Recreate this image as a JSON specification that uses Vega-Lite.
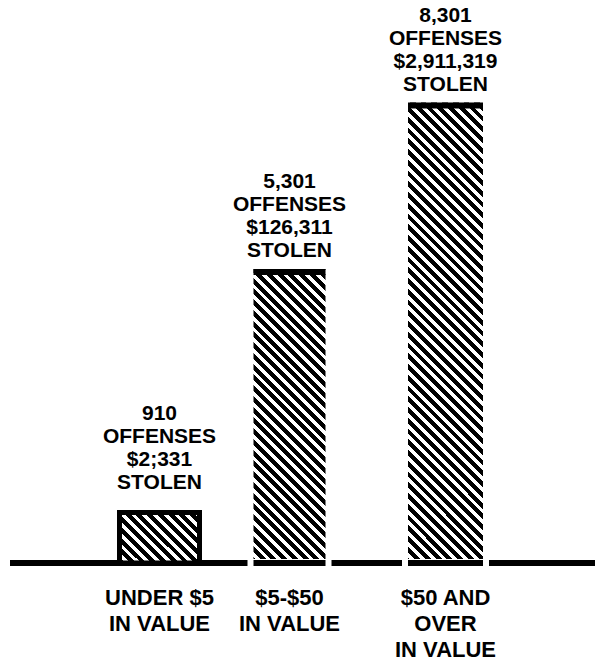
{
"$schema": "https://vega.github.io/schema/vega-lite/v6.json",
"width": 585,
"height": 563,
"autosize": {"type": "none"},
"padding": {"left": 10, "top": 0, "right": 0, "bottom": 99},
"config": {"view": {"stroke": null}, "text": {"font": "Liberation Sans", "fontWeight": "bold", "fontSize": 21, "color": "black"}},
"data": {"values": [
{"category": "UNDER $5\nIN VALUE", "offenses": 910, "stolen": "$2;331"},
{"category": "$5-$50\nIN VALUE", "offenses": 5301, "stolen": "$126,311"},
{"category": "$50 AND\nOVER\nIN VALUE", "offenses": 8301, "stolen": "$2,911,319"}
]},
"encoding": {"y": {"field": "offenses", "type": "quantitative", "scale": {"domain": [0, 10150], "nice": false}, "axis": null}},
"layer": [
{"mark": {"type": "rule", "color": "black", "strokeWidth": 6}, "encoding": {"y": {"datum": 0}}},
{"encoding": {"x": {"field": "category", "type": "nominal", "scale": {"type": "point", "padding": 0.75, "domain": ["pad1", "pad2", "pad3", "pad4", "pad5", "UNDER $5\nIN VALUE", "gap1", "gap2", "gap3", "gap4", "$5-$50\nIN VALUE", "gap5", "gap6", "gap7", "gap8", "gap9", "$50 AND\nOVER\nIN VALUE", "pad6", "pad7", "pad8", "pad9", "pad10"]}, "axis": null}},
 "layer": [
 {"transform": [{"filter": "datum.offenses === 910"}],
  "layer": [
  {"mark": {"type": "bar", "width": 80, "stroke": "black", "strokeWidth": 5, "fill": {"gradient": "linear", "x1": 0, "y1": 1, "x2": 4.8055, "y2": -2.0323, "stops": [
{"offset":0,"color":"#000"},{"offset":0.011,"color":"#000"},{"offset":0.011,"color":"#fff"},{"offset":0.02,"color":"#fff"},
{"offset":0.02,"color":"#000"},{"offset":0.031,"color":"#000"},{"offset":0.031,"color":"#fff"},{"offset":0.04,"color":"#fff"},
{"offset":0.04,"color":"#000"},{"offset":0.051,"color":"#000"},{"offset":0.051,"color":"#fff"},{"offset":0.06,"color":"#fff"},
{"offset":0.06,"color":"#000"},{"offset":0.071,"color":"#000"},{"offset":0.071,"color":"#fff"},{"offset":0.08,"color":"#fff"},
{"offset":0.08,"color":"#000"},{"offset":0.091,"color":"#000"},{"offset":0.091,"color":"#fff"},{"offset":0.1,"color":"#fff"},
{"offset":0.1,"color":"#000"},{"offset":0.111,"color":"#000"},{"offset":0.111,"color":"#fff"},{"offset":0.12,"color":"#fff"},
{"offset":0.12,"color":"#000"},{"offset":0.131,"color":"#000"},{"offset":0.131,"color":"#fff"},{"offset":0.14,"color":"#fff"},
{"offset":0.14,"color":"#000"},{"offset":0.151,"color":"#000"},{"offset":0.151,"color":"#fff"},{"offset":0.16,"color":"#fff"},
{"offset":0.16,"color":"#000"},{"offset":0.171,"color":"#000"},{"offset":0.171,"color":"#fff"},{"offset":0.18,"color":"#fff"},
{"offset":0.18,"color":"#000"},{"offset":0.191,"color":"#000"},{"offset":0.191,"color":"#fff"},{"offset":0.2,"color":"#fff"},
{"offset":0.2,"color":"#000"},{"offset":0.211,"color":"#000"},{"offset":0.211,"color":"#fff"},{"offset":0.22,"color":"#fff"},
{"offset":0.22,"color":"#000"},{"offset":0.231,"color":"#000"},{"offset":0.231,"color":"#fff"},{"offset":0.24,"color":"#fff"},
{"offset":0.24,"color":"#000"},{"offset":0.251,"color":"#000"},{"offset":0.251,"color":"#fff"},{"offset":0.26,"color":"#fff"}
  ]}}},
  {"mark": {"type": "text", "baseline": "alphabetic", "dy": -93}, "encoding": {"text": {"field": "offenses", "type": "quantitative", "format": ","}}},
  {"mark": {"type": "text", "baseline": "alphabetic", "dy": -70}, "encoding": {"text": {"value": "OFFENSES"}}},
  {"mark": {"type": "text", "baseline": "alphabetic", "dy": -47}, "encoding": {"text": {"field": "stolen", "type": "nominal"}}},
  {"mark": {"type": "text", "baseline": "alphabetic", "dy": -24}, "encoding": {"text": {"value": "STOLEN"}}}
  ]},
 {"transform": [{"filter": "datum.offenses === 5301"}],
  "layer": [
  {"mark": {"type": "bar", "width": 72, "fill": {"gradient": "linear", "x1": 0, "y1": 1, "x2": 0.42229, "y2": -0.72457, "stops": [
{"offset":0,"color":"#000"},{"offset":0.011,"color":"#000"},{"offset":0.011,"color":"#fff"},{"offset":0.02,"color":"#fff"},
{"offset":0.02,"color":"#000"},{"offset":0.031,"color":"#000"},{"offset":0.031,"color":"#fff"},{"offset":0.04,"color":"#fff"},
{"offset":0.04,"color":"#000"},{"offset":0.051,"color":"#000"},{"offset":0.051,"color":"#fff"},{"offset":0.06,"color":"#fff"},
{"offset":0.06,"color":"#000"},{"offset":0.071,"color":"#000"},{"offset":0.071,"color":"#fff"},{"offset":0.08,"color":"#fff"},
{"offset":0.08,"color":"#000"},{"offset":0.091,"color":"#000"},{"offset":0.091,"color":"#fff"},{"offset":0.1,"color":"#fff"},
{"offset":0.1,"color":"#000"},{"offset":0.111,"color":"#000"},{"offset":0.111,"color":"#fff"},{"offset":0.12,"color":"#fff"},
{"offset":0.12,"color":"#000"},{"offset":0.131,"color":"#000"},{"offset":0.131,"color":"#fff"},{"offset":0.14,"color":"#fff"},
{"offset":0.14,"color":"#000"},{"offset":0.151,"color":"#000"},{"offset":0.151,"color":"#fff"},{"offset":0.16,"color":"#fff"},
{"offset":0.16,"color":"#000"},{"offset":0.171,"color":"#000"},{"offset":0.171,"color":"#fff"},{"offset":0.18,"color":"#fff"},
{"offset":0.18,"color":"#000"},{"offset":0.191,"color":"#000"},{"offset":0.191,"color":"#fff"},{"offset":0.2,"color":"#fff"},
{"offset":0.2,"color":"#000"},{"offset":0.211,"color":"#000"},{"offset":0.211,"color":"#fff"},{"offset":0.22,"color":"#fff"},
{"offset":0.22,"color":"#000"},{"offset":0.231,"color":"#000"},{"offset":0.231,"color":"#fff"},{"offset":0.24,"color":"#fff"},
{"offset":0.24,"color":"#000"},{"offset":0.251,"color":"#000"},{"offset":0.251,"color":"#fff"},{"offset":0.26,"color":"#fff"},
{"offset":0.26,"color":"#000"},{"offset":0.271,"color":"#000"},{"offset":0.271,"color":"#fff"},{"offset":0.28,"color":"#fff"},
{"offset":0.28,"color":"#000"},{"offset":0.291,"color":"#000"},{"offset":0.291,"color":"#fff"},{"offset":0.3,"color":"#fff"},
{"offset":0.3,"color":"#000"},{"offset":0.311,"color":"#000"},{"offset":0.311,"color":"#fff"},{"offset":0.32,"color":"#fff"},
{"offset":0.32,"color":"#000"},{"offset":0.331,"color":"#000"},{"offset":0.331,"color":"#fff"},{"offset":0.34,"color":"#fff"},
{"offset":0.34,"color":"#000"},{"offset":0.351,"color":"#000"},{"offset":0.351,"color":"#fff"},{"offset":0.36,"color":"#fff"},
{"offset":0.36,"color":"#000"},{"offset":0.371,"color":"#000"},{"offset":0.371,"color":"#fff"},{"offset":0.38,"color":"#fff"},
{"offset":0.38,"color":"#000"},{"offset":0.391,"color":"#000"},{"offset":0.391,"color":"#fff"},{"offset":0.4,"color":"#fff"},
{"offset":0.4,"color":"#000"},{"offset":0.411,"color":"#000"},{"offset":0.411,"color":"#fff"},{"offset":0.42,"color":"#fff"},
{"offset":0.42,"color":"#000"},{"offset":0.431,"color":"#000"},{"offset":0.431,"color":"#fff"},{"offset":0.44,"color":"#fff"},
{"offset":0.44,"color":"#000"},{"offset":0.451,"color":"#000"},{"offset":0.451,"color":"#fff"},{"offset":0.46,"color":"#fff"},
{"offset":0.46,"color":"#000"},{"offset":0.471,"color":"#000"},{"offset":0.471,"color":"#fff"},{"offset":0.48,"color":"#fff"},
{"offset":0.48,"color":"#000"},{"offset":0.491,"color":"#000"},{"offset":0.491,"color":"#fff"},{"offset":0.5,"color":"#fff"},
{"offset":0.5,"color":"#000"},{"offset":0.511,"color":"#000"},{"offset":0.511,"color":"#fff"},{"offset":0.52,"color":"#fff"},
{"offset":0.52,"color":"#000"},{"offset":0.531,"color":"#000"},{"offset":0.531,"color":"#fff"},{"offset":0.54,"color":"#fff"},
{"offset":0.54,"color":"#000"},{"offset":0.551,"color":"#000"},{"offset":0.551,"color":"#fff"},{"offset":0.56,"color":"#fff"},
{"offset":0.56,"color":"#000"},{"offset":0.571,"color":"#000"},{"offset":0.571,"color":"#fff"},{"offset":0.58,"color":"#fff"},
{"offset":0.58,"color":"#000"},{"offset":0.591,"color":"#000"},{"offset":0.591,"color":"#fff"},{"offset":0.6,"color":"#fff"},
{"offset":0.6,"color":"#000"},{"offset":0.611,"color":"#000"},{"offset":0.611,"color":"#fff"},{"offset":0.62,"color":"#fff"},
{"offset":0.62,"color":"#000"},{"offset":0.631,"color":"#000"},{"offset":0.631,"color":"#fff"},{"offset":0.64,"color":"#fff"},
{"offset":0.64,"color":"#000"},{"offset":0.651,"color":"#000"},{"offset":0.651,"color":"#fff"},{"offset":0.66,"color":"#fff"},
{"offset":0.66,"color":"#000"},{"offset":0.671,"color":"#000"},{"offset":0.671,"color":"#fff"},{"offset":0.68,"color":"#fff"},
{"offset":0.68,"color":"#000"},{"offset":0.691,"color":"#000"},{"offset":0.691,"color":"#fff"},{"offset":0.7,"color":"#fff"}
  ]}}},
  {"mark": {"type": "tick", "orient": "horizontal", "size": 72, "thickness": 6, "yOffset": 3, "color": "black", "opacity": 1}},
  {"mark": {"type": "tick", "orient": "horizontal", "size": 84, "thickness": 8, "color": "white", "opacity": 1}, "encoding": {"y": {"datum": 0}}},
  {"mark": {"type": "tick", "orient": "horizontal", "size": 72, "thickness": 6, "color": "black", "opacity": 1}, "encoding": {"y": {"datum": 0}}}
  ]},
 {"transform": [{"filter": "datum.offenses === 8301"}],
  "layer": [
  {"mark": {"type": "bar", "width": 75, "fill": {"gradient": "linear", "x1": 0, "y1": 1, "x2": 0.18524, "y2": -0.1372, "stops": [
{"offset":0,"color":"#000"},{"offset":0.011,"color":"#000"},{"offset":0.011,"color":"#fff"},{"offset":0.02,"color":"#fff"},
{"offset":0.02,"color":"#000"},{"offset":0.031,"color":"#000"},{"offset":0.031,"color":"#fff"},{"offset":0.04,"color":"#fff"},
{"offset":0.04,"color":"#000"},{"offset":0.051,"color":"#000"},{"offset":0.051,"color":"#fff"},{"offset":0.06,"color":"#fff"},
{"offset":0.06,"color":"#000"},{"offset":0.071,"color":"#000"},{"offset":0.071,"color":"#fff"},{"offset":0.08,"color":"#fff"},
{"offset":0.08,"color":"#000"},{"offset":0.091,"color":"#000"},{"offset":0.091,"color":"#fff"},{"offset":0.1,"color":"#fff"},
{"offset":0.1,"color":"#000"},{"offset":0.111,"color":"#000"},{"offset":0.111,"color":"#fff"},{"offset":0.12,"color":"#fff"},
{"offset":0.12,"color":"#000"},{"offset":0.131,"color":"#000"},{"offset":0.131,"color":"#fff"},{"offset":0.14,"color":"#fff"},
{"offset":0.14,"color":"#000"},{"offset":0.151,"color":"#000"},{"offset":0.151,"color":"#fff"},{"offset":0.16,"color":"#fff"},
{"offset":0.16,"color":"#000"},{"offset":0.171,"color":"#000"},{"offset":0.171,"color":"#fff"},{"offset":0.18,"color":"#fff"},
{"offset":0.18,"color":"#000"},{"offset":0.191,"color":"#000"},{"offset":0.191,"color":"#fff"},{"offset":0.2,"color":"#fff"},
{"offset":0.2,"color":"#000"},{"offset":0.211,"color":"#000"},{"offset":0.211,"color":"#fff"},{"offset":0.22,"color":"#fff"},
{"offset":0.22,"color":"#000"},{"offset":0.231,"color":"#000"},{"offset":0.231,"color":"#fff"},{"offset":0.24,"color":"#fff"},
{"offset":0.24,"color":"#000"},{"offset":0.251,"color":"#000"},{"offset":0.251,"color":"#fff"},{"offset":0.26,"color":"#fff"},
{"offset":0.26,"color":"#000"},{"offset":0.271,"color":"#000"},{"offset":0.271,"color":"#fff"},{"offset":0.28,"color":"#fff"},
{"offset":0.28,"color":"#000"},{"offset":0.291,"color":"#000"},{"offset":0.291,"color":"#fff"},{"offset":0.3,"color":"#fff"},
{"offset":0.3,"color":"#000"},{"offset":0.311,"color":"#000"},{"offset":0.311,"color":"#fff"},{"offset":0.32,"color":"#fff"},
{"offset":0.32,"color":"#000"},{"offset":0.331,"color":"#000"},{"offset":0.331,"color":"#fff"},{"offset":0.34,"color":"#fff"},
{"offset":0.34,"color":"#000"},{"offset":0.351,"color":"#000"},{"offset":0.351,"color":"#fff"},{"offset":0.36,"color":"#fff"},
{"offset":0.36,"color":"#000"},{"offset":0.371,"color":"#000"},{"offset":0.371,"color":"#fff"},{"offset":0.38,"color":"#fff"},
{"offset":0.38,"color":"#000"},{"offset":0.391,"color":"#000"},{"offset":0.391,"color":"#fff"},{"offset":0.4,"color":"#fff"},
{"offset":0.4,"color":"#000"},{"offset":0.411,"color":"#000"},{"offset":0.411,"color":"#fff"},{"offset":0.42,"color":"#fff"},
{"offset":0.42,"color":"#000"},{"offset":0.431,"color":"#000"},{"offset":0.431,"color":"#fff"},{"offset":0.44,"color":"#fff"},
{"offset":0.44,"color":"#000"},{"offset":0.451,"color":"#000"},{"offset":0.451,"color":"#fff"},{"offset":0.46,"color":"#fff"},
{"offset":0.46,"color":"#000"},{"offset":0.471,"color":"#000"},{"offset":0.471,"color":"#fff"},{"offset":0.48,"color":"#fff"},
{"offset":0.48,"color":"#000"},{"offset":0.491,"color":"#000"},{"offset":0.491,"color":"#fff"},{"offset":0.5,"color":"#fff"},
{"offset":0.5,"color":"#000"},{"offset":0.511,"color":"#000"},{"offset":0.511,"color":"#fff"},{"offset":0.52,"color":"#fff"},
{"offset":0.52,"color":"#000"},{"offset":0.531,"color":"#000"},{"offset":0.531,"color":"#fff"},{"offset":0.54,"color":"#fff"},
{"offset":0.54,"color":"#000"},{"offset":0.551,"color":"#000"},{"offset":0.551,"color":"#fff"},{"offset":0.56,"color":"#fff"},
{"offset":0.56,"color":"#000"},{"offset":0.571,"color":"#000"},{"offset":0.571,"color":"#fff"},{"offset":0.58,"color":"#fff"},
{"offset":0.58,"color":"#000"},{"offset":0.591,"color":"#000"},{"offset":0.591,"color":"#fff"},{"offset":0.6,"color":"#fff"},
{"offset":0.6,"color":"#000"},{"offset":0.611,"color":"#000"},{"offset":0.611,"color":"#fff"},{"offset":0.62,"color":"#fff"},
{"offset":0.62,"color":"#000"},{"offset":0.631,"color":"#000"},{"offset":0.631,"color":"#fff"},{"offset":0.64,"color":"#fff"},
{"offset":0.64,"color":"#000"},{"offset":0.651,"color":"#000"},{"offset":0.651,"color":"#fff"},{"offset":0.66,"color":"#fff"},
{"offset":0.66,"color":"#000"},{"offset":0.671,"color":"#000"},{"offset":0.671,"color":"#fff"},{"offset":0.68,"color":"#fff"},
{"offset":0.68,"color":"#000"},{"offset":0.691,"color":"#000"},{"offset":0.691,"color":"#fff"},{"offset":0.7,"color":"#fff"},
{"offset":0.7,"color":"#000"},{"offset":0.711,"color":"#000"},{"offset":0.711,"color":"#fff"},{"offset":0.72,"color":"#fff"},
{"offset":0.72,"color":"#000"},{"offset":0.731,"color":"#000"},{"offset":0.731,"color":"#fff"},{"offset":0.74,"color":"#fff"},
{"offset":0.74,"color":"#000"},{"offset":0.751,"color":"#000"},{"offset":0.751,"color":"#fff"},{"offset":0.76,"color":"#fff"},
{"offset":0.76,"color":"#000"},{"offset":0.771,"color":"#000"},{"offset":0.771,"color":"#fff"},{"offset":0.78,"color":"#fff"},
{"offset":0.78,"color":"#000"},{"offset":0.791,"color":"#000"},{"offset":0.791,"color":"#fff"},{"offset":0.8,"color":"#fff"},
{"offset":0.8,"color":"#000"},{"offset":0.811,"color":"#000"},{"offset":0.811,"color":"#fff"},{"offset":0.82,"color":"#fff"},
{"offset":0.82,"color":"#000"},{"offset":0.831,"color":"#000"},{"offset":0.831,"color":"#fff"},{"offset":0.84,"color":"#fff"},
{"offset":0.84,"color":"#000"},{"offset":0.851,"color":"#000"},{"offset":0.851,"color":"#fff"},{"offset":0.86,"color":"#fff"},
{"offset":0.86,"color":"#000"},{"offset":0.871,"color":"#000"},{"offset":0.871,"color":"#fff"},{"offset":0.88,"color":"#fff"},
{"offset":0.88,"color":"#000"},{"offset":0.891,"color":"#000"},{"offset":0.891,"color":"#fff"},{"offset":0.9,"color":"#fff"},
{"offset":0.9,"color":"#000"},{"offset":0.911,"color":"#000"},{"offset":0.911,"color":"#fff"},{"offset":0.92,"color":"#fff"},
{"offset":0.92,"color":"#000"},{"offset":0.931,"color":"#000"},{"offset":0.931,"color":"#fff"},{"offset":0.94,"color":"#fff"},
{"offset":0.94,"color":"#000"},{"offset":0.951,"color":"#000"},{"offset":0.951,"color":"#fff"},{"offset":0.96,"color":"#fff"},
{"offset":0.96,"color":"#000"},{"offset":0.971,"color":"#000"},{"offset":0.971,"color":"#fff"},{"offset":0.98,"color":"#fff"},
{"offset":0.98,"color":"#000"},{"offset":0.991,"color":"#000"},{"offset":0.991,"color":"#fff"},{"offset":1,"color":"#fff"}
  ]}}},
  {"mark": {"type": "tick", "orient": "horizontal", "size": 75, "thickness": 6, "yOffset": 3, "color": "black", "opacity": 1}},
  {"mark": {"type": "tick", "orient": "horizontal", "size": 87, "thickness": 8, "color": "white", "opacity": 1}, "encoding": {"y": {"datum": 0}}},
  {"mark": {"type": "tick", "orient": "horizontal", "size": 75, "thickness": 6, "color": "black", "opacity": 1}, "encoding": {"y": {"datum": 0}}}
  ]},
 {"transform": [{"filter": "datum.offenses > 1000"}],
  "layer": [
  {"mark": {"type": "text", "baseline": "alphabetic", "dy": -81}, "encoding": {"text": {"field": "offenses", "type": "quantitative", "format": ","}}},
  {"mark": {"type": "text", "baseline": "alphabetic", "dy": -58}, "encoding": {"text": {"value": "OFFENSES"}}},
  {"mark": {"type": "text", "baseline": "alphabetic", "dy": -35}, "encoding": {"text": {"field": "stolen", "type": "nominal"}}},
  {"mark": {"type": "text", "baseline": "alphabetic", "dy": -12}, "encoding": {"text": {"value": "STOLEN"}}}
  ]},
 {"mark": {"type": "text", "baseline": "alphabetic", "dy": 42, "lineBreak": "\n", "lineHeight": 26, "fontSize": 22}, "encoding": {"y": {"datum": 0}, "text": {"field": "category", "type": "nominal"}}}
 ]}
]
}
